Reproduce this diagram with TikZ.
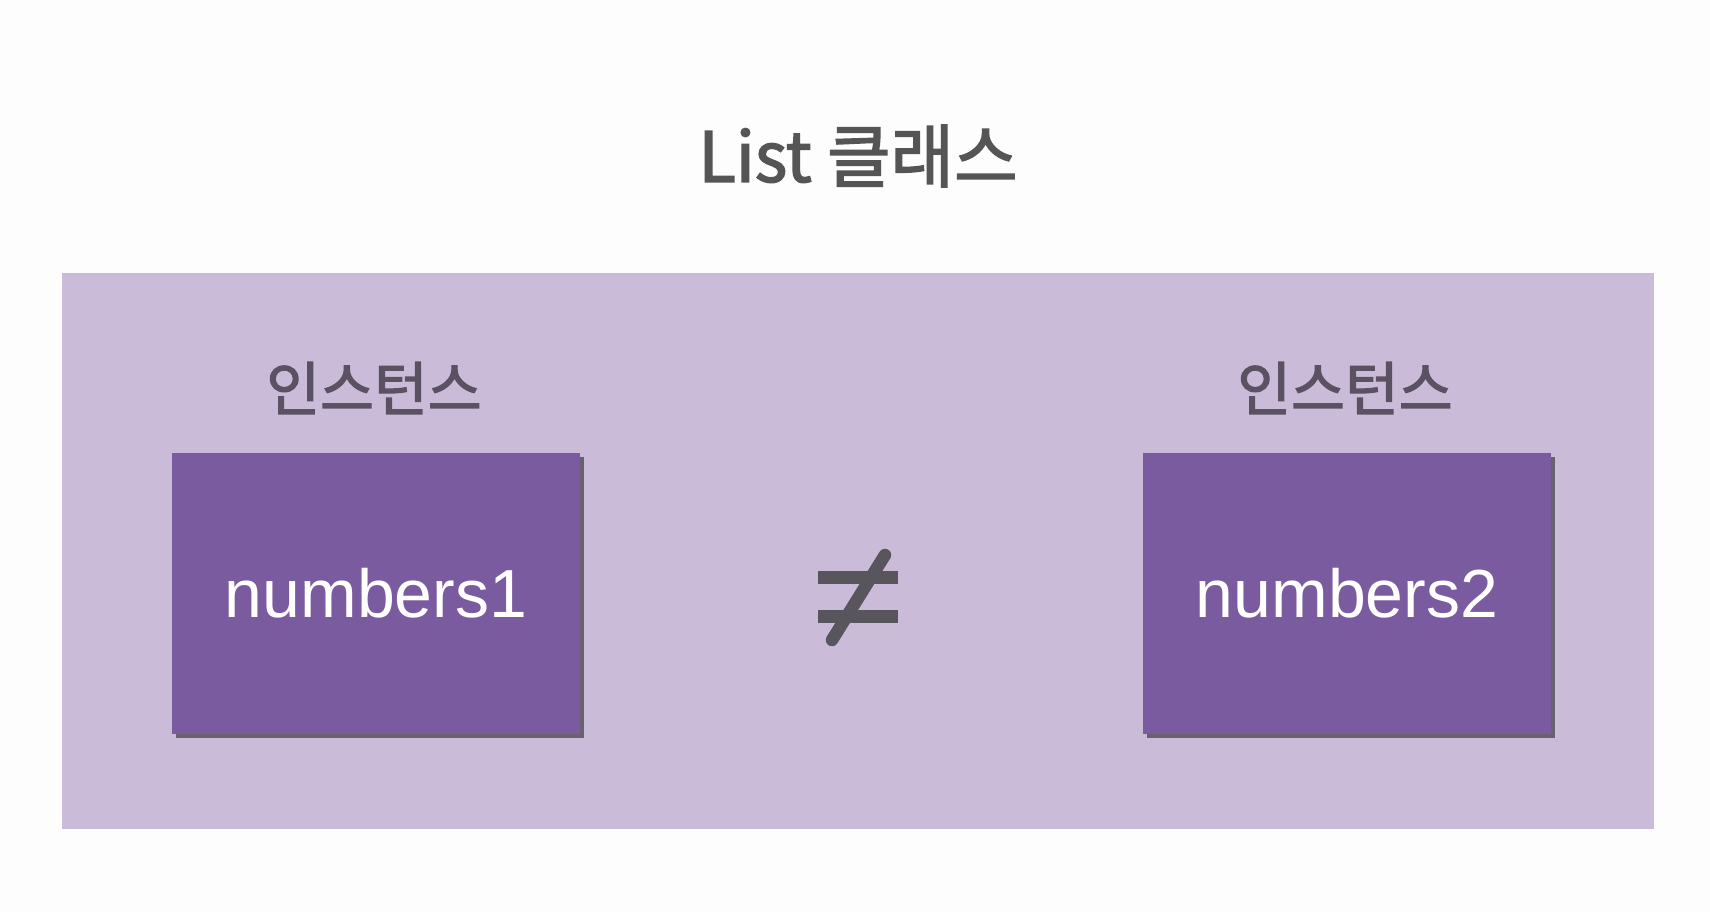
\documentclass[tikz,border=0pt]{standalone}
\usepackage{fontspec}
\newfontfamily\krfont[FakeBold=2.2]{Noto Sans CJK KR}
\newfontfamily\arialfont{Liberation Sans}
\usetikzlibrary{shadows}
\definecolor{pagebg}{HTML}{FDFDFD}
\definecolor{panelbg}{HTML}{CABCD8}
\definecolor{boxfill}{HTML}{7B5B9F}
\definecolor{titlegray}{HTML}{555555}
\definecolor{labelgray}{HTML}{5A5262}
\definecolor{neqgray}{HTML}{58555C}
\tikzset{
  panel/.style={fill=panelbg, draw=none},
  instbox/.style={fill=boxfill, draw=none, minimum width=408pt, minimum height=281pt,
    inner sep=0pt, drop shadow={shadow xshift=3.5pt, shadow yshift=-3.5pt, fill=black!85, opacity=0.6},
    text=white, font=\arialfont\fontsize{68}{80}\selectfont},
  instlabel/.style={text=labelgray, font=\krfont\fontsize{58.5}{68}\selectfont, inner sep=0pt},
  titlestyle/.style={text=titlegray, font=\krfont\fontsize{69}{80}\selectfont, inner sep=0pt},
  neqbar/.style={draw=neqgray, line width=12.5pt},
}
\begin{document}
\begin{tikzpicture}[x=1pt,y=-1pt]
\fill[pagebg] (0,0) rectangle (1710,912);
\useasboundingbox (0,0) rectangle (1710,912);
\node[titlestyle] (title) at (858,156) {List 클래스};
\node[panel, minimum width=1592pt, minimum height=556pt, inner sep=0pt] (panel) at (858,551) {};
\node[instbox] (box1) at (376,593.5) {numbers1};
\node[instbox] (box2) at (1347,593.5) {numbers2};
\node[instlabel] (lab1) at (374,388) {인스턴스};
\node[instlabel] (lab2) at (1345,388) {인스턴스};
\coordinate (neq) at (858,597);
\draw[neqbar] ([xshift=-40pt,yshift=-19.5pt]neq) -- ([xshift=40pt,yshift=-19.5pt]neq);
\draw[neqbar] ([xshift=-40pt,yshift=19.5pt]neq) -- ([xshift=40pt,yshift=19.5pt]neq);
\draw[draw=neqgray, line width=12.5pt, line cap=round] ([xshift=27pt,yshift=42pt]neq) -- ([xshift=-26pt,yshift=-43pt]neq);
\end{tikzpicture}
\end{document}
